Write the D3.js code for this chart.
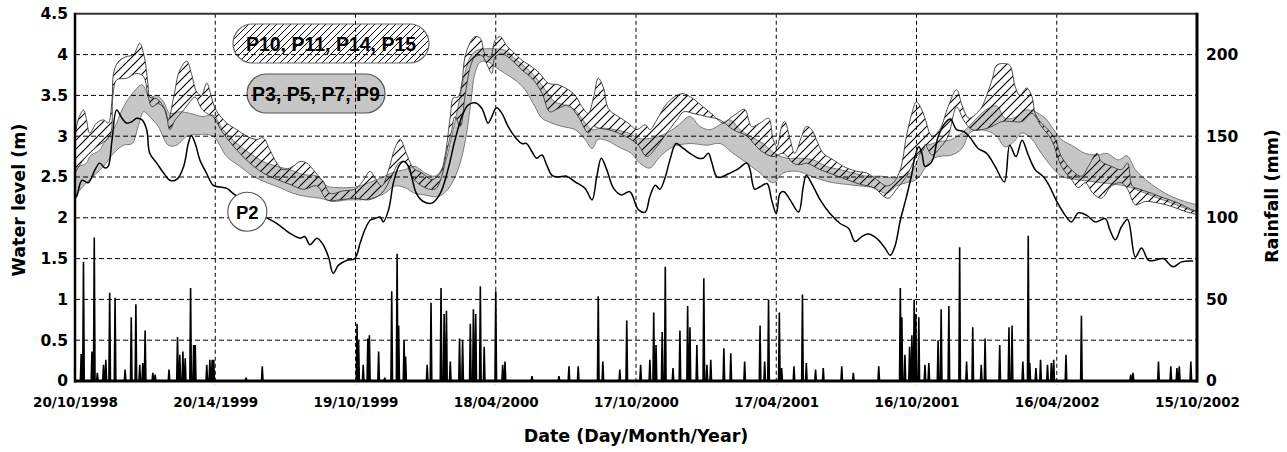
<!DOCTYPE html>
<html><head><meta charset="utf-8">
<script src="https://cdn.jsdelivr.net/npm/d3@7"></script>
<style>body{margin:0;background:#fff}svg{display:block}</style>
</head><body>
<svg id="c" width="1287" height="452"></svg>
<script>
// ---------- DATA ----------
const xTickDays = [0,182,364,546,728,910,1092,1274,1456];
const xTickLabels = ["20/10/1998","20/14/1999","19/10/1999","18/04/2000","17/10/2000","17/04/2001","16/10/2001","16/04/2002","15/10/2002"];
const yLeftTicks = [0,0.5,1,1.5,2,2.5,3,3.5,4,4.5];
const yRightTicks = [0,50,100,150,200];

// P2 water level (day, m)
const p2 = [[0,2.25],[2,2.26],[9,2.46],[17,2.43],[26,2.59],[32,2.67],[39,2.61],[43,2.63],[48,2.95],[54,3.32],[61,3.22],[67,3.16],[74,3.18],[80,3.22],[87,3.2],[93,3.08],[97,2.79],[106,2.67],[115,2.55],[123,2.46],[132,2.47],[141,2.63],[147,2.91],[151,3.01],[156,2.91],[162,2.71],[171,2.54],[179,2.4],[186,2.38],[197,2.36],[205,2.3],[227,2.15],[249,2.0],[262,1.93],[279,1.81],[292,1.75],[298,1.77],[305,1.67],[314,1.75],[322,1.67],[329,1.52],[335,1.32],[342,1.42],[353,1.48],[363,1.5],[370,1.69],[376,1.85],[383,1.97],[389,1.99],[396,2.01],[400,1.95],[407,2.1],[413,2.42],[420,2.63],[426,2.69],[433,2.63],[437,2.5],[443,2.3],[452,2.2],[463,2.18],[474,2.3],[484,2.59],[493,2.95],[502,3.24],[510,3.38],[519,3.41],[528,3.34],[536,3.16],[540,3.22],[547,3.35],[554,3.28],[562,3.12],[571,2.99],[580,2.91],[586,2.91],[593,2.81],[599,2.73],[606,2.77],[612,2.65],[619,2.52],[627,2.5],[638,2.51],[649,2.44],[662,2.36],[671,2.22],[677,2.5],[683,2.73],[690,2.59],[699,2.36],[709,2.28],[720,2.32],[731,2.1],[740,2.07],[746,2.26],[753,2.4],[759,2.35],[766,2.5],[772,2.71],[780,2.91],[787,2.87],[798,2.79],[809,2.73],[815,2.73],[822,2.79],[826,2.69],[833,2.5],[839,2.5],[848,2.54],[859,2.59],[872,2.67],[876,2.59],[882,2.35],[889,2.38],[898,2.42],[904,2.22],[910,2.05],[915,2.3],[920,2.32],[928,2.22],[939,2.07],[945,2.38],[949,2.52],[956,2.42],[967,2.22],[980,2.05],[993,1.93],[1004,1.87],[1012,1.71],[1021,1.77],[1029,1.8],[1040,1.75],[1051,1.63],[1058,1.54],[1064,1.65],[1071,1.97],[1079,2.26],[1086,2.54],[1090,2.75],[1095,2.87],[1099,2.79],[1103,2.63],[1112,2.69],[1120,2.99],[1129,3.16],[1136,3.21],[1144,3.08],[1153,3.06],[1161,2.99],[1172,2.85],[1183,2.79],[1194,2.63],[1206,2.44],[1213,2.89],[1221,2.75],[1229,2.95],[1237,2.77],[1246,2.59],[1257,2.5],[1265,2.38],[1274,2.2],[1285,2.03],[1293,1.95],[1302,2.06],[1313,2.03],[1324,1.95],[1337,1.99],[1343,1.85],[1350,1.73],[1358,1.89],[1366,1.98],[1376,1.52],[1384,1.63],[1393,1.48],[1402,1.48],[1412,1.5],[1425,1.4],[1436,1.46],[1451,1.47]];

// P3, P5, P7, P9 envelope (upper / lower)
const grayUpper = [[0,2.62],[15,2.67],[19,2.75],[32,2.83],[37,2.91],[50,3.08],[63,3.36],[76,3.54],[87,3.63],[97,3.48],[106,3.5],[115,3.42],[123,3.28],[136,3.3],[149,3.28],[166,3.24],[179,3.26],[192,3.08],[210,2.91],[227,2.79],[244,2.69],[262,2.63],[279,2.59],[296,2.53],[314,2.51],[327,2.39],[340,2.37],[357,2.37],[370,2.39],[381,2.43],[398,2.49],[411,2.55],[428,2.59],[441,2.63],[454,2.55],[467,2.51],[478,2.63],[489,3.0],[497,3.36],[506,3.77],[513,3.97],[521,4.05],[532,4.07],[545,4.07],[558,4.05],[571,3.95],[584,3.85],[597,3.73],[610,3.57],[623,3.42],[636,3.38],[649,3.32],[662,3.16],[671,3.08],[683,3.1],[701,3.08],[718,3.04],[733,2.97],[750,2.98],[768,3.04],[781,3.12],[798,3.24],[811,3.12],[824,3.08],[837,3.14],[850,3.2],[863,3.08],[876,3.0],[893,2.91],[908,2.79],[924,2.73],[941,2.73],[958,2.71],[975,2.63],[993,2.59],[1010,2.55],[1027,2.51],[1045,2.51],[1062,2.49],[1075,2.51],[1084,2.55],[1092,2.67],[1101,2.87],[1110,2.9],[1120,2.93],[1138,2.96],[1151,3.04],[1160,3.12],[1172,3.24],[1185,3.34],[1196,3.37],[1207,3.22],[1220,3.23],[1233,3.32],[1246,3.3],[1259,3.22],[1270,3.08],[1280,2.96],[1293,2.89],[1311,2.79],[1328,2.77],[1339,2.79],[1354,2.71],[1365,2.76],[1376,2.59],[1389,2.47],[1406,2.35],[1423,2.26],[1440,2.2],[1456,2.16]];
const grayLower = [[0,2.27],[15,2.43],[37,2.63],[50,2.79],[63,2.89],[74,2.91],[82,3.12],[89,3.3],[97,3.24],[108,3.12],[121,2.89],[132,2.89],[145,3.0],[158,3.02],[179,3.0],[197,2.75],[214,2.63],[231,2.51],[249,2.43],[266,2.37],[283,2.3],[301,2.26],[318,2.24],[335,2.2],[353,2.22],[370,2.22],[385,2.24],[402,2.3],[415,2.39],[428,2.37],[441,2.3],[454,2.28],[471,2.26],[484,2.35],[497,2.59],[506,2.92],[513,3.36],[519,3.77],[526,3.91],[536,3.91],[545,3.85],[558,3.77],[571,3.69],[584,3.57],[597,3.36],[606,3.22],[619,3.16],[632,3.12],[649,3.08],[662,2.96],[671,2.85],[679,2.96],[692,2.94],[705,2.87],[722,2.79],[733,2.67],[746,2.61],[759,2.75],[776,2.87],[798,2.91],[820,2.89],[837,2.91],[854,2.79],[872,2.67],[889,2.55],[906,2.43],[919,2.55],[937,2.57],[950,2.53],[967,2.47],[984,2.43],[1001,2.41],[1019,2.39],[1036,2.37],[1053,2.3],[1066,2.39],[1079,2.43],[1092,2.47],[1110,2.7],[1120,2.75],[1138,2.77],[1151,2.85],[1161,3.04],[1172,3.08],[1185,3.06],[1196,3.0],[1207,2.87],[1218,2.93],[1229,3.04],[1242,2.96],[1254,2.79],[1267,2.63],[1280,2.51],[1298,2.47],[1315,2.45],[1332,2.43],[1350,2.41],[1363,2.39],[1376,2.35],[1389,2.3],[1406,2.24],[1423,2.18],[1440,2.12],[1456,2.06]];

// P10, P11, P14, P15 envelope (upper / lower)
const hatchUpper = [[0,2.97],[4,3.2],[11,3.32],[15,3.2],[19,3.04],[28,3.16],[37,3.2],[43,3.16],[48,3.44],[50,3.77],[56,3.91],[65,3.97],[76,4.0],[80,4.07],[84,4.14],[90,3.97],[95,3.61],[97,3.48],[106,3.46],[115,3.36],[121,3.2],[128,3.48],[136,3.81],[145,3.92],[151,3.77],[158,3.54],[164,3.5],[171,3.65],[177,3.48],[183,3.32],[197,3.16],[210,3.08],[223,3.0],[236,2.96],[244,2.98],[253,2.83],[262,2.67],[270,2.59],[283,2.63],[292,2.69],[301,2.67],[309,2.59],[316,2.51],[322,2.45],[331,2.3],[348,2.33],[363,2.35],[372,2.43],[383,2.57],[389,2.49],[398,2.39],[407,2.59],[415,2.85],[422,2.96],[430,2.79],[439,2.61],[450,2.55],[463,2.47],[474,2.55],[480,2.75],[487,3.24],[491,3.47],[497,3.48],[502,3.65],[506,3.97],[513,4.15],[519,4.22],[526,4.2],[532,4.01],[539,3.97],[545,4.17],[552,4.22],[560,4.11],[569,4.03],[580,3.93],[590,3.87],[603,3.77],[614,3.65],[627,3.63],[640,3.57],[649,3.5],[658,3.36],[666,3.28],[673,3.48],[679,3.71],[686,3.59],[692,3.34],[705,3.24],[718,3.16],[729,3.08],[740,3.14],[746,3.08],[755,3.2],[768,3.4],[781,3.5],[790,3.52],[802,3.46],[815,3.36],[828,3.26],[841,3.16],[850,3.22],[859,3.28],[869,3.33],[878,3.12],[889,3.16],[900,3.22],[906,2.96],[911,2.87],[917,3.12],[921,3.18],[928,2.96],[934,2.79],[943,3.0],[949,3.12],[956,3.08],[962,2.96],[971,2.79],[984,2.71],[997,2.63],[1014,2.57],[1027,2.55],[1040,2.47],[1053,2.39],[1062,2.43],[1071,2.59],[1079,3.0],[1086,3.28],[1092,3.42],[1099,3.32],[1103,3.22],[1112,3.0],[1122,3.08],[1133,3.36],[1144,3.57],[1151,3.38],[1160,3.22],[1172,3.3],[1177,3.36],[1190,3.69],[1196,3.87],[1205,3.89],[1213,3.87],[1220,3.61],[1226,3.5],[1235,3.59],[1242,3.48],[1246,3.28],[1254,3.16],[1263,3.08],[1272,2.96],[1280,2.75],[1293,2.59],[1306,2.51],[1315,2.63],[1326,2.79],[1332,2.69],[1345,2.63],[1358,2.59],[1366,2.67],[1372,2.39],[1382,2.35],[1397,2.3],[1414,2.24],[1432,2.18],[1449,2.1],[1456,2.08]];
const hatchLower = [[0,2.55],[11,2.71],[28,2.87],[45,3.0],[49,3.48],[54,3.69],[67,3.71],[80,3.77],[89,3.73],[95,3.48],[100,3.36],[108,3.4],[117,3.32],[123,3.08],[130,3.2],[141,3.32],[149,3.42],[156,3.48],[164,3.34],[171,3.28],[179,3.24],[192,3.04],[210,2.83],[227,2.67],[244,2.55],[262,2.47],[279,2.41],[296,2.35],[314,2.39],[327,2.22],[344,2.22],[363,2.24],[381,2.22],[398,2.3],[411,2.51],[420,2.67],[428,2.69],[437,2.51],[450,2.39],[467,2.35],[476,2.51],[482,2.79],[489,3.08],[493,3.24],[500,3.12],[506,3.48],[513,3.85],[519,3.97],[528,3.99],[534,3.89],[541,3.77],[545,3.97],[554,4.01],[567,3.93],[580,3.81],[593,3.71],[606,3.53],[616,3.3],[627,3.34],[640,3.38],[653,3.24],[666,3.04],[673,3.12],[679,3.1],[692,3.08],[705,3.04],[718,2.98],[731,2.89],[742,2.75],[755,2.87],[768,3.04],[781,3.2],[790,3.3],[802,3.28],[820,3.24],[837,3.2],[854,3.08],[872,3.0],[889,2.83],[906,2.75],[919,2.79],[932,2.67],[941,2.65],[949,2.67],[967,2.59],[984,2.53],[1001,2.47],[1019,2.41],[1036,2.37],[1055,2.24],[1066,2.35],[1079,2.51],[1092,2.75],[1101,2.83],[1103,2.9],[1112,2.77],[1122,2.85],[1133,3.0],[1144,3.36],[1153,3.2],[1164,3.08],[1177,3.08],[1190,3.12],[1203,3.18],[1216,3.18],[1229,3.18],[1242,3.28],[1254,3.12],[1267,2.96],[1280,2.63],[1293,2.47],[1302,2.37],[1311,2.43],[1321,2.3],[1332,2.24],[1345,2.39],[1358,2.43],[1366,2.35],[1376,2.16],[1389,2.2],[1406,2.18],[1423,2.14],[1440,2.08],[1456,2.04]];

// Daily rainfall events (day, mm); all other days 0
const rainEvents = [[8,16.5],[11,73],[22,18],[25,88],[29,5],[37,10],[40,13],[45,54],[52,51],[65,7],[73,39],[79,47],[84,10],[88,11],[91,31],[101,5],[104,4],[122,7],[133,27],[136,16],[140,18],[143,14],[150,57],[154,22],[156,22],[171,10],[175,13],[178,13],[180,13],[222,2],[243,9],[366,35],[368,25],[374,10],[380,26],[382,28],[394,18],[402,2],[411,55],[418,78],[420,34],[427,25],[429,15],[457,10],[462,48],[475,57],[479,41],[482,43],[487,12],[499,26],[503,25],[513,35],[517,44],[520,41],[526,58],[531,21],[546,55],[555,10],[558,12],[593,3],[628,3],[641,9],[653,9],[679,52],[685,12],[707,7],[716,37],[734,10],[746,13],[751,42],[754,22],[762,30],[766,70],[776,8],[785,31],[795,46],[798,33],[807,22],[816,63],[820,10],[825,13],[842,20],[851,17],[869,12],[889,34],[895,12],[900,50],[914,42],[917,8],[933,9],[944,53],[949,11],[961,7],[971,8],[995,9],[1010,5],[1043,9],[1071,57],[1073,39],[1077,16],[1083,21],[1086,28],[1089,50],[1091,41],[1095,39],[1103,10],[1108,11],[1120,25],[1124,44],[1134,46],[1148,82],[1157,12],[1165,33],[1176,10],[1181,26],[1200,22],[1212,33],[1216,34],[1230,12],[1237,89],[1239,11],[1247,8],[1253,13],[1262,10],[1267,11],[1270,13],[1286,16],[1306,40],[1370,4],[1373,5],[1406,12],[1422,9],[1430,8],[1433,9],[1448,12]];

const legendHatch = "P10, P11, P14, P15";
const legendGray = "P3, P5, P7, P9";
const labelP2 = "P2";

// ---------- LAYOUT ----------
const L = 75, R = 1197, T = 13.8, B = 381;
const svg = d3.select("#c");
const x = d3.scaleLinear().domain([0,1456]).range([L,R]);
const y = d3.scaleLinear().domain([0,4.5]).range([B,T]);
const yr = d3.scaleLinear().domain([0,225]).range([B,T]);
const tickFont = "'DejaVu Sans', sans-serif";
const lblFont = "'Liberation Sans', Arial, sans-serif";

const defs = svg.append("defs");
const pat = defs.append("pattern").attr("id","hatch").attr("patternUnits","userSpaceOnUse")
  .attr("width",9).attr("height",9);
pat.append("path").attr("d","M-2,2 L2,-2 M0,9 L9,0 M7,11 L11,7")
  .attr("stroke","#000").attr("stroke-width",1.15);
const pat2 = defs.append("pattern").attr("id","hatch2").attr("patternUnits","userSpaceOnUse")
  .attr("width",7).attr("height",7);
pat2.append("rect").attr("width",7).attr("height",7).attr("fill","#fff");
pat2.append("path").attr("d","M-2,2 L2,-2 M0,7 L7,0 M5,9 L9,5")
  .attr("stroke","#000").attr("stroke-width",1);

const clip = defs.append("clipPath").attr("id","plot");
clip.append("rect").attr("x",L).attr("y",T).attr("width",R-L).attr("height",B-T);

const curve = d3.curveCatmullRom.alpha(0.5);
const ln = d3.line().x(d=>x(d[0])).y(d=>y(d[1])).curve(curve);
function band(up, lo){
  return ln(up) + "L" + ln(lo.slice().reverse()).slice(1) + "Z";
}
const g = svg.append("g").attr("clip-path","url(#plot)");

// gray band
g.append("path").attr("d", band(grayUpper, grayLower))
  .attr("fill","#c6c6c6").attr("stroke","#7a7a7a").attr("stroke-width",1);
// hatched band
g.append("path").attr("d", band(hatchUpper, hatchLower))
  .attr("fill","url(#hatch)").attr("stroke","#3a3a3a").attr("stroke-width",0.9);

// legend pills
function pill(x0,y0,w,h,fill,stroke,text){
  svg.append("rect").attr("x",x0).attr("y",y0).attr("width",w).attr("height",h)
    .attr("rx",h/2).attr("ry",h/2).attr("fill",fill).attr("stroke",stroke).attr("stroke-width",1.2);
  svg.append("text").attr("x",x0+w/2).attr("y",y0+h/2+7).attr("text-anchor","middle")
    .attr("font-family",lblFont).attr("font-weight","bold").attr("font-size",19.5)
    .attr("fill","#000").text(text);
}
pill(233,24,196,39,"url(#hatch2)","#666",legendHatch);
pill(247,74,138,39,"#c6c6c6","#555",legendGray);

// gridlines
const grid = svg.append("g");
yLeftTicks.filter(v=>v>0 && v<4.5).forEach(v=>{
  grid.append("line").attr("x1",L).attr("x2",R).attr("y1",y(v)).attr("y2",y(v))
    .attr("stroke","#000").attr("stroke-width",1).attr("stroke-dasharray","5,3");
});
xTickDays.slice(1,-1).forEach(d=>{
  grid.append("line").attr("x1",x(d)).attr("x2",x(d)).attr("y1",T).attr("y2",B+4)
    .attr("stroke","#000").attr("stroke-width",1).attr("stroke-dasharray","4,3");
});

// rainfall daily line
const daily = d3.range(0,1457).map(d=>[d,0]);
rainEvents.forEach(([d,v])=>{ daily[d][1] = v; });
g.append("path").datum(daily)
  .attr("d", d3.line().x(d=>x(d[0])).y(d=>yr(d[1])))
  .attr("fill","none").attr("stroke","#000").attr("stroke-width",1.6).attr("stroke-linejoin","miter");

// P2 line
g.append("path").attr("d", ln(p2)).attr("fill","none").attr("stroke","#000").attr("stroke-width",1.5);

// P2 label circle
svg.append("circle").attr("cx",247.3).attr("cy",211.7).attr("r",19.5)
  .attr("fill","#fff").attr("stroke","#555").attr("stroke-width",1.1);
svg.append("text").attr("x",247.3).attr("y",218.5).attr("text-anchor","middle")
  .attr("font-family",lblFont).attr("font-weight","bold").attr("font-size",18.5).text(labelP2);

// frame
svg.append("line").attr("x1",L).attr("x2",R).attr("y1",T).attr("y2",T).attr("stroke","#333").attr("stroke-width",2);
svg.append("line").attr("x1",L).attr("x2",L).attr("y1",T-1).attr("y2",B+1.5).attr("stroke","#000").attr("stroke-width",2.5);
svg.append("line").attr("x1",R).attr("x2",R).attr("y1",T-1).attr("y2",B+1.5).attr("stroke","#000").attr("stroke-width",3);
svg.append("line").attr("x1",L).attr("x2",R).attr("y1",B).attr("y2",B).attr("stroke","#000").attr("stroke-width",3);

// axes labels
const yAxisL = d3.axisLeft(y).tickValues(yLeftTicks).tickSize(0).tickPadding(7)
  .tickFormat(d=>String(d));
const gl = svg.append("g").attr("transform",`translate(${L},0)`).call(yAxisL);
const yAxisR = d3.axisRight(yr).tickValues(yRightTicks).tickSize(0).tickPadding(9);
const gr = svg.append("g").attr("transform",`translate(${R},0)`).call(yAxisR);
const xAxis = d3.axisBottom(x).tickValues(xTickDays).tickSize(0).tickPadding(16)
  .tickFormat((d,i)=>xTickLabels[i]);
const gx = svg.append("g").attr("transform",`translate(0,${B})`).call(xAxis);
[gl,gr].forEach(a=>{a.select(".domain").remove();
  a.selectAll("text").attr("font-family",tickFont).attr("font-weight","bold").attr("font-size",15.5).attr("fill","#000");});
gx.select(".domain").remove();
gx.selectAll("text").attr("font-family",tickFont).attr("font-weight","bold").attr("font-size",13.5).attr("fill","#000");

// titles
svg.append("text").attr("x",(L+R)/2).attr("y",442).attr("text-anchor","middle")
  .attr("font-family",tickFont).attr("font-weight","bold").attr("font-size",17.5).text("Date (Day/Month/Year)");
svg.append("text").attr("transform","translate(25,200) rotate(-90)").attr("text-anchor","middle")
  .attr("font-family",tickFont).attr("font-weight","bold").attr("font-size",17.5).text("Water level (m)");
svg.append("text").attr("transform","translate(1278,196) rotate(-90)").attr("text-anchor","middle")
  .attr("font-family",tickFont).attr("font-weight","bold").attr("font-size",17.5).text("Rainfall (mm)");
</script>
</body></html>
